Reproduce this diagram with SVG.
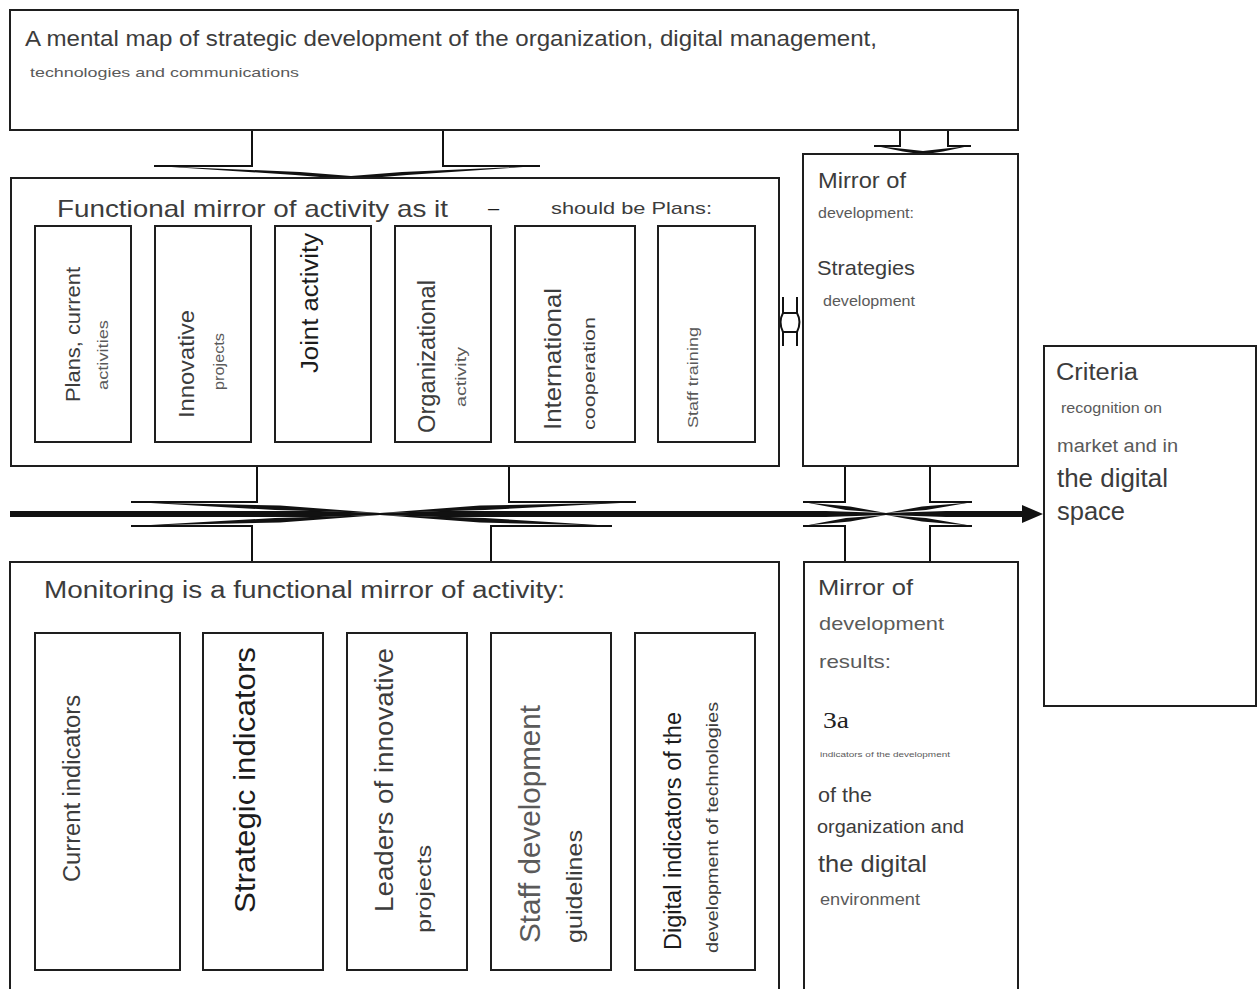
<svg xmlns="http://www.w3.org/2000/svg" width="1258" height="989" viewBox="0 0 1258 989">
  <style>
    .box { fill: #ffffff; stroke: #1e1e1e; stroke-width: 2; }
    .inner { fill: #ffffff; stroke: #1e1e1e; stroke-width: 2; }
    .wire { fill: none; stroke: #111111; stroke-width: 2; }
    .wedge { fill: #111111; stroke: none; }
    .t { font-family: "Liberation Sans", Arial, sans-serif; fill: #3c3c3c; }
    .dark { fill: #1c1c1c; }
    .light { fill: #5a5a5a; }
    .serif { font-family: "Liberation Serif", "Times New Roman", serif; fill: #222222; }
  </style>
  <rect width="1258" height="989" fill="#ffffff"/>

  <!-- connectors -->
  <g id="connectors">
    <!-- mental map down to functional mirror -->
    <path class="wire" d="M252,130 V166 H154 M443,130 V166 H540"/>
    <polygon class="wedge" points="156,166 300,172 351,176 351,179.5 295,175"/>
    <polygon class="wedge" points="538,166 402,172 351,176 351,179.5 407,175"/>
    <!-- mental map down to mirror of development -->
    <path class="wire" d="M900,130 V146 H874 M948,130 V146 H971"/>
    <polygon class="wedge" points="876,146 905,149 923,151 923,154.5 903,151.5"/>
    <polygon class="wedge" points="969,146 941,149 923,151 923,154.5 943,151.5"/>
    <!-- two-way link between functional mirror and mirror of development -->
    <path class="wire" d="M783,297 V313 H797 V297 M783,346 V332 H797 V346 M783,313 Q778,322 783,332 M797,313 Q802,322 797,332"/>

    <!-- main axis arrow -->
    <polygon class="wedge" points="10,511 320,511 380,513 440,511 826,511 886,513 946,511 1022,511 1022,505 1043,514 1022,523 1022,517 946,517 886,515 826,517 440,517 380,515 320,517 10,517"/>

    <!-- crossing between functional mirror and monitoring -->
    <path class="wire" d="M257,466 V502 H131 M509,466 V502 H636 M252,562 V526 H131 M491,562 V526 H612"/>
    <polygon class="wedge" points="142,502.5 280,505.5 380,513 275,510"/>
    <polygon class="wedge" points="142,525.5 280,522.5 380,515 275,518"/>
    <polygon class="wedge" points="630,502.5 480,505.5 380,513 485,510"/>
    <polygon class="wedge" points="606,525.5 480,522.5 380,515 485,518"/>

    <!-- crossing between the two mirrors on the right -->
    <path class="wire" d="M845,466 V502 H803 M930,466 V502 H972 M845,562 V526 H803 M930,562 V526 H972"/>
    <polygon class="wedge" points="806,502.5 850,506.5 886,513 846,510"/>
    <polygon class="wedge" points="806,525.5 850,521.5 886,515 846,518"/>
    <polygon class="wedge" points="970,502.5 922,506.5 886,513 926,510"/>
    <polygon class="wedge" points="970,525.5 922,521.5 886,515 926,518"/>
  </g>

  <!-- mental map -->
  <g id="mental-map">
    <rect class="box" x="10" y="10" width="1008" height="120"/>
    <text class="t" x="25" y="46" font-size="22" textLength="852" lengthAdjust="spacingAndGlyphs">A mental map of strategic development of the organization, digital management,</text>
    <text class="t light" x="30" y="77" font-size="13" textLength="269" lengthAdjust="spacingAndGlyphs">technologies and communications</text>
  </g>

  <!-- functional mirror of activity -->
  <g id="functional-mirror">
    <rect class="box" x="11" y="178" width="768" height="288"/>
    <text class="t" x="57" y="217" font-size="24" textLength="391" lengthAdjust="spacingAndGlyphs">Functional mirror of activity as it</text>
    <text class="t dark" x="488" y="215" font-size="20">–</text>
    <text class="t" x="551" y="214" font-size="17" textLength="161" lengthAdjust="spacingAndGlyphs">should be Plans:</text>
  </g>

  <g id="plans-current">
    <rect class="inner" x="35" y="226" width="96" height="216"/>
    <text class="t" transform="translate(80,402) rotate(-90)" font-size="21" textLength="135" lengthAdjust="spacingAndGlyphs">Plans, current</text>
    <text class="t light" transform="translate(108,390) rotate(-90)" font-size="14" textLength="70" lengthAdjust="spacingAndGlyphs">activities</text>
  </g>
  <g id="innovative-projects">
    <rect class="inner" x="155" y="226" width="96" height="216"/>
    <text class="t" transform="translate(194,418) rotate(-90)" font-size="22" textLength="108" lengthAdjust="spacingAndGlyphs">Innovative</text>
    <text class="t light" transform="translate(224,390) rotate(-90)" font-size="14" textLength="57" lengthAdjust="spacingAndGlyphs">projects</text>
  </g>
  <g id="joint-activity">
    <rect class="inner" x="275" y="226" width="96" height="216"/>
    <text class="t dark" transform="translate(318,373) rotate(-90)" font-size="23" textLength="140" lengthAdjust="spacingAndGlyphs">Joint activity</text>
  </g>
  <g id="organizational-activity">
    <rect class="inner" x="395" y="226" width="96" height="216"/>
    <text class="t" transform="translate(435,433) rotate(-90)" font-size="23" textLength="153" lengthAdjust="spacingAndGlyphs">Organizational</text>
    <text class="t light" transform="translate(466,407) rotate(-90)" font-size="14" textLength="60" lengthAdjust="spacingAndGlyphs">activity</text>
  </g>
  <g id="international-cooperation">
    <rect class="inner" x="515" y="226" width="120" height="216"/>
    <text class="t" transform="translate(561,430) rotate(-90)" font-size="24" textLength="142" lengthAdjust="spacingAndGlyphs">International</text>
    <text class="t" transform="translate(595,430) rotate(-90)" font-size="17" textLength="113" lengthAdjust="spacingAndGlyphs">cooperation</text>
  </g>
  <g id="staff-training">
    <rect class="inner" x="658" y="226" width="97" height="216"/>
    <text class="t light" transform="translate(698,428) rotate(-90)" font-size="14" textLength="101" lengthAdjust="spacingAndGlyphs">Staff training</text>
  </g>

  <!-- mirror of development strategies -->
  <g id="mirror-development">
    <rect class="box" x="803" y="154" width="215" height="312"/>
    <text class="t" x="818" y="188" font-size="22" textLength="88" lengthAdjust="spacingAndGlyphs">Mirror of</text>
    <text class="t light" x="818" y="218" font-size="14" textLength="96" lengthAdjust="spacingAndGlyphs">development:</text>
    <text class="t" x="817" y="275" font-size="21" textLength="98" lengthAdjust="spacingAndGlyphs">Strategies</text>
    <text class="t light" x="823" y="306" font-size="14" textLength="92" lengthAdjust="spacingAndGlyphs">development</text>
  </g>

  <!-- criteria -->
  <g id="criteria">
    <rect class="box" x="1044" y="346" width="212" height="360"/>
    <text class="t" x="1056" y="380" font-size="23" textLength="82" lengthAdjust="spacingAndGlyphs">Criteria</text>
    <text class="t light" x="1061" y="413" font-size="14" textLength="101" lengthAdjust="spacingAndGlyphs">recognition on</text>
    <text class="t light" x="1057" y="452" font-size="18" textLength="121" lengthAdjust="spacingAndGlyphs">market and in</text>
    <text class="t" x="1057" y="487" font-size="25" textLength="111" lengthAdjust="spacingAndGlyphs">the digital</text>
    <text class="t" x="1057" y="520" font-size="25" textLength="68" lengthAdjust="spacingAndGlyphs">space</text>
  </g>

  <!-- monitoring -->
  <g id="monitoring">
    <path class="box" d="M10,995 V562 H779 V995"/>
    <text class="t" x="44" y="598" font-size="23" textLength="521" lengthAdjust="spacingAndGlyphs">Monitoring is a functional mirror of activity:</text>
  </g>

  <g id="current-indicators">
    <rect class="inner" x="35" y="633" width="145" height="337"/>
    <text class="t" transform="translate(80,882) rotate(-90)" font-size="23" textLength="187" lengthAdjust="spacingAndGlyphs">Current indicators</text>
  </g>
  <g id="strategic-indicators">
    <rect class="inner" x="203" y="633" width="120" height="337"/>
    <text class="t dark" transform="translate(255,913) rotate(-90)" font-size="30" textLength="266" lengthAdjust="spacingAndGlyphs">Strategic indicators</text>
  </g>
  <g id="innovation-leaders">
    <rect class="inner" x="347" y="633" width="120" height="337"/>
    <text class="t" transform="translate(393,912) rotate(-90)" font-size="26" textLength="264" lengthAdjust="spacingAndGlyphs">Leaders of innovative</text>
    <text class="t" transform="translate(431,933) rotate(-90)" font-size="21" textLength="88" lengthAdjust="spacingAndGlyphs">projects</text>
  </g>
  <g id="staff-guidelines">
    <rect class="inner" x="491" y="633" width="120" height="337"/>
    <text class="t light" transform="translate(540,943) rotate(-90)" font-size="29" textLength="238" lengthAdjust="spacingAndGlyphs">Staff development</text>
    <text class="t" transform="translate(582,943) rotate(-90)" font-size="22" textLength="113" lengthAdjust="spacingAndGlyphs">guidelines</text>
  </g>
  <g id="digital-indicators">
    <rect class="inner" x="635" y="633" width="120" height="337"/>
    <text class="t dark" transform="translate(681,950) rotate(-90)" font-size="23" textLength="238" lengthAdjust="spacingAndGlyphs">Digital indicators of the</text>
    <text class="t" transform="translate(718,953) rotate(-90)" font-size="16" textLength="251" lengthAdjust="spacingAndGlyphs">development of technologies</text>
  </g>

  <!-- mirror of development results -->
  <g id="mirror-results">
    <path class="box" d="M804,995 V562 H1018 V995"/>
    <text class="t" x="818" y="595" font-size="22" textLength="95" lengthAdjust="spacingAndGlyphs">Mirror of</text>
    <text class="t light" x="819" y="630" font-size="19" textLength="125" lengthAdjust="spacingAndGlyphs">development</text>
    <text class="t light" x="819" y="668" font-size="19" textLength="72" lengthAdjust="spacingAndGlyphs">results:</text>
    <text class="serif" x="823" y="728" font-size="23" textLength="26" lengthAdjust="spacingAndGlyphs">3a</text>
    <text class="t light" x="820" y="757" font-size="7" textLength="130" lengthAdjust="spacingAndGlyphs">indicators of the development</text>
    <text class="t" x="818" y="802" font-size="20" textLength="54" lengthAdjust="spacingAndGlyphs">of the</text>
    <text class="t" x="817" y="833" font-size="18" textLength="147" lengthAdjust="spacingAndGlyphs">organization and</text>
    <text class="t" x="818" y="872" font-size="24" textLength="109" lengthAdjust="spacingAndGlyphs">the digital</text>
    <text class="t light" x="820" y="905" font-size="16" textLength="100" lengthAdjust="spacingAndGlyphs">environment</text>
  </g>
</svg>
